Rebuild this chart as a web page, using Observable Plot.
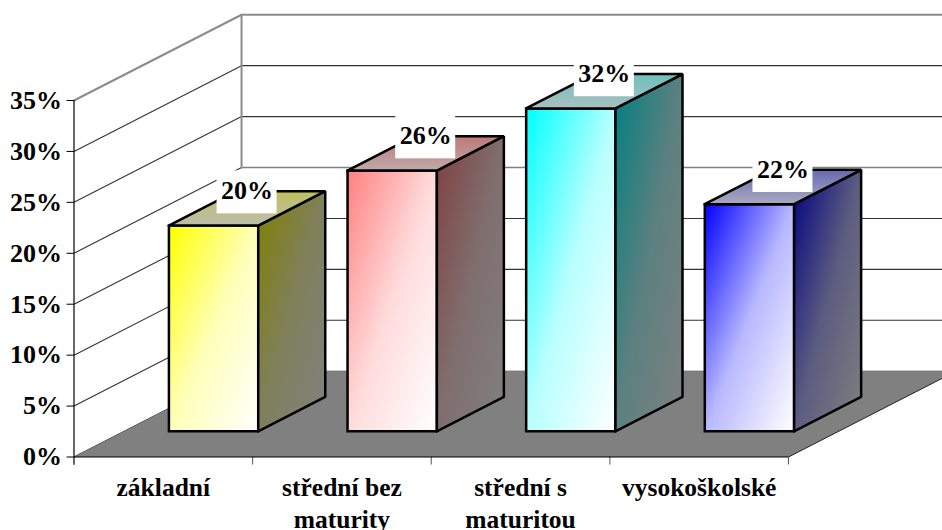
<!DOCTYPE html>
<html>
<head>
<meta charset="utf-8">
<style>html,body{margin:0;padding:0;background:#fff}svg{display:block}</style>
<script src="https://cdn.jsdelivr.net/npm/d3@7"></script>
<script src="https://cdn.jsdelivr.net/npm/@observablehq/plot@0.6"></script>
</head>
<body>
<script>
const categories = ["základní", "střední bez\nmaturity", "střední s\nmaturitou", "vysokoškolské"];
const values = [20.2, 25.6, 31.7, 22.3];
const yTicks = [0, 5, 10, 15, 20, 25, 30, 35];
const frontColors = ["#ffff00", "#ff8080", "#00ffff", "#0000ff"];
const sideColors = ["#808000", "#804040", "#008080", "#000080"];
const topColors = ["#bfbf60", "#bf7878", "#70bfbf", "#6868b4"];
const topEndColors = ["#bdbdac", "#bfaaaa", "#aabfbf", "#aaaabf"];

// oblique 3D projection expressed in data units of the two scales
const depthX = 0.938, depthY = 8.42;
const P = (cat, val, depth) => ({x: cat + depth * depthX, y: val + depth * depthY});
const serif = "'Liberation Serif','Times New Roman',serif";
const poly = (pts, o) => Plot.line(pts, {x: "x", y: "y", ...o});

const near = 0.3, far = 0.7, barLeft = 0.25, barWidth = 0.5;
const edge = {stroke: "#000", strokeWidth: 2.5, strokeLinejoin: "miter", strokeLinecap: "square"};

const gridMarks = yTicks.filter(v => v < 35 && v !== 20).map(v =>
  poly([P(0, v, 0), P(0, v, 1), P(4, v, 1)], {stroke: "#333", strokeWidth: 1.1}));

const barMarks = values.flatMap((v, i) => {
  const l = i + barLeft, r = l + barWidth;
  return [
    poly([P(l, 0, near), P(r, 0, near), P(r, v, near), P(l, v, near), P(l, 0, near)], {fill: `url(#front${i})`, ...edge}),
    poly([P(r, 0, near), P(r, 0, far), P(r, v, far), P(r, v, near), P(r, 0, near)], {fill: `url(#side${i})`, ...edge}),
    poly([P(l, v, near), P(r, v, near), P(r, v, far), P(l, v, far), P(l, v, near)], {fill: `url(#top${i})`, ...edge})
  ];
});

const labels = values.map((v, i) => ({...P(i + barLeft + barWidth / 2, v, 0.5), t: Math.round(v) + "%"}));

const gradients = () => {
  const defs = d3.create("svg:defs");
  const grad = (id, a, b, x2, y2, mid) => {
    const g = defs.append("linearGradient").attr("id", id)
      .attr("x1", 0).attr("y1", 0).attr("x2", x2).attr("y2", y2);
    g.append("stop").attr("offset", 0).attr("stop-color", a);
    if (mid != null) g.append("stop").attr("offset", 0.5).attr("stop-color", d3.interpolateRgb(a, b)(mid));
    g.append("stop").attr("offset", 1).attr("stop-color", b);
  };
  frontColors.forEach((c, i) => {
    grad(`front${i}`, c, "#ffffff", 1, 1, 0.72);
    grad(`side${i}`, sideColors[i], "#808080", 1, 1, 0.72);
    grad(`top${i}`, topColors[i], topEndColors[i], 0, 1);
  });
  return defs.node();
};

const chart = Plot.plot({
  width: 942,
  height: 530,
  marginLeft: 73.5,
  marginRight: 154,
  marginTop: 100,
  marginBottom: 73.5,
  style: {background: "#fff", overflow: "hidden"},
  x: {domain: [0, 4], range: [73.5, 788], label: null},
  y: {domain: [0, 35], range: [456.5, 100], label: null},
  marks: [
    gradients,
    ...gridMarks,
    poly([P(0, 20, 0), P(0, 20, 1)], {stroke: "#333", strokeWidth: 1.1}),
    poly([P(0, 20, 1), P(4, 20, 1)], {stroke: "#808080", strokeWidth: 1.6}),
    poly([P(0, 35, 0), P(0, 35, 1), P(4, 35, 1)], {stroke: "#8c8c8c", strokeWidth: 2}),
    poly([P(0, 20, 1), P(0, 35, 1)], {stroke: "#8c8c8c", strokeWidth: 2}),
    poly([P(0, 0, 0), P(4, 0, 0), P(4, 0, 1), P(0, 0, 1), P(0, 0, 0)], {fill: "#808080", stroke: "none"}),
    poly([P(4, 0, 0), P(4, 0, 1)], {stroke: "#222", strokeWidth: 1}),
    Plot.axisX({ticks: [1, 2, 3, 4], tickSize: 8, tickFormat: () => "", stroke: "#555", label: null}),
    Plot.ruleY([0], {x1: 0, x2: 4, stroke: "#000", strokeWidth: 1.2}),
    Plot.ruleX([0], {y1: -0.8, y2: 35, stroke: "#000", strokeWidth: 1.2}),
    Plot.axisY({
      ticks: yTicks, tickSize: 7, tickPadding: 5, label: null,
      tickFormat: d => d + "%",
      fontFamily: serif, fontWeight: "bold", fontSize: 26, fill: "#000", stroke: "#000"
    }),
    Plot.text(categories, {
      x: (d, i) => i + 0.5, y: 0, text: d => d, dy: 16,
      lineAnchor: "top", textAnchor: "middle", lineHeight: 1.27,
      fontFamily: serif, fontWeight: "bold", fontSize: 25.5, fill: "#000"
    }),
    ...barMarks,
    Plot.rect(labels, {x1: "x", x2: "x", y1: "y", y2: "y", fill: "#fff",
      insetLeft: -30, insetRight: -30, insetTop: -37.5, insetBottom: -5.5}),
    Plot.text(labels, {x: "x", y: "y", text: "t", dy: -17.5,
      fontFamily: serif, fontWeight: "bold", fontSize: 26, fill: "#000"})
  ]
});
document.body.appendChild(chart);
</script>
</body>
</html>
